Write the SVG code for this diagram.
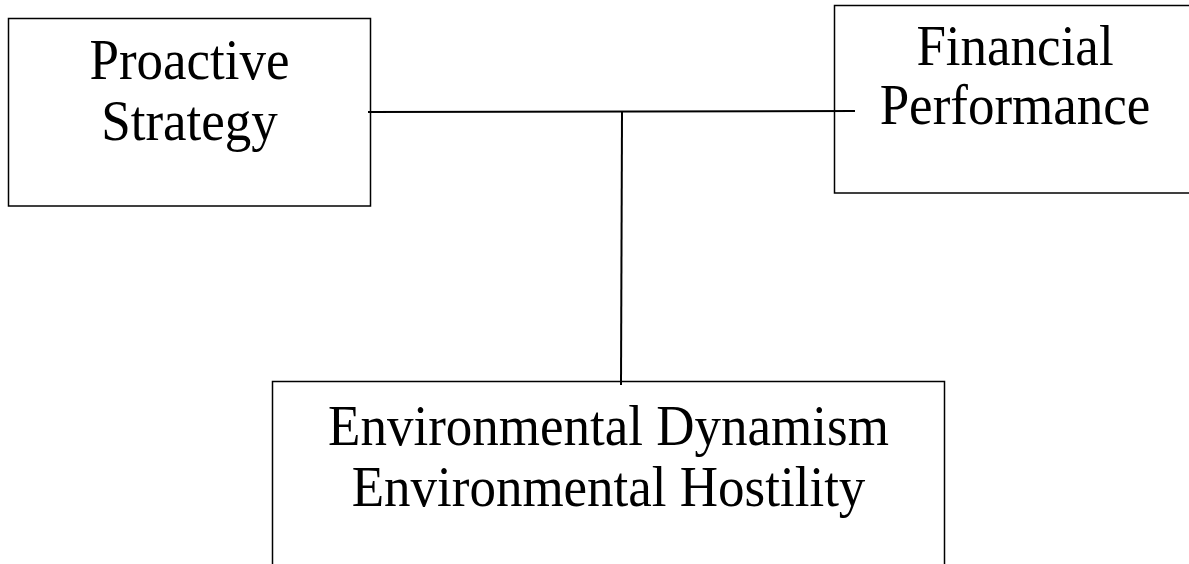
<svg xmlns="http://www.w3.org/2000/svg" width="1189" height="564" viewBox="0 0 1189 564">
<style>
.box{fill:#fff;stroke:#000;stroke-width:1.5}
.lbl{font-family:"Liberation Serif","Times New Roman",serif;font-size:53px;fill:#000;text-anchor:middle}
.conn{stroke:#000;stroke-width:2;fill:none}
</style>
<rect width="1189" height="564" fill="#fff"/>
<g id="proactive-strategy">
<rect class="box" x="8.5" y="18.5" width="362" height="187.5"/>
<text class="lbl" transform="translate(189.5 79) scale(1 1.08)">Proactive</text>
<text class="lbl" transform="translate(189.5 140) scale(1 1.08)">Strategy</text>
</g>
<g id="financial-performance">
<rect class="box" x="834.5" y="5.5" width="362" height="187.5"/>
<text class="lbl" transform="translate(1015 65) scale(1 1.08)">Financial</text>
<text class="lbl" transform="translate(1015 124) scale(1 1.08)">Performance</text>
</g>
<g id="environment">
<rect class="box" x="272.5" y="381.5" width="672" height="200"/>
<text class="lbl" transform="translate(608.5 445) scale(1 1.08)">Environmental Dynamism</text>
<text class="lbl" transform="translate(608.5 506) scale(1 1.08)">Environmental Hostility</text>
</g>
<g id="connectors">
<line class="conn" x1="368" y1="112" x2="855" y2="111"/>
<line class="conn" x1="622" y1="112" x2="621" y2="385"/>
</g>
</svg>
